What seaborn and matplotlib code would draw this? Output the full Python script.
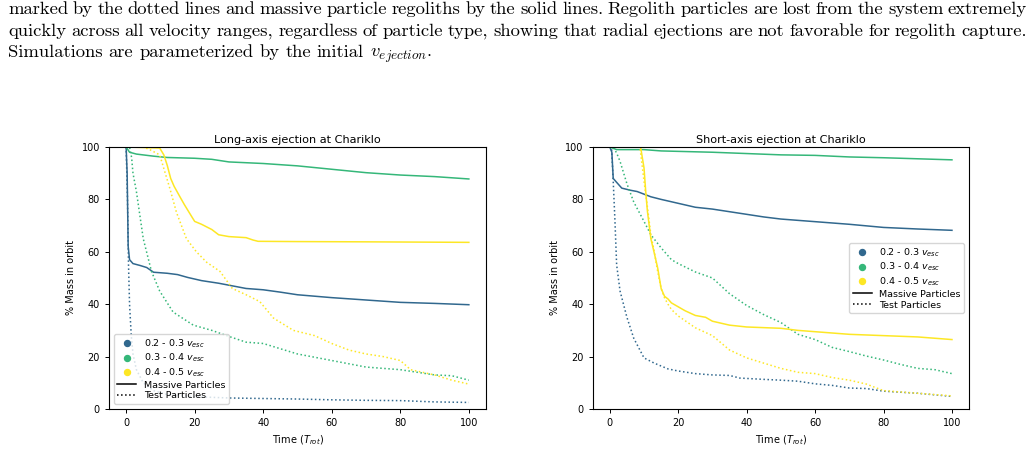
import numpy as np
import pandas as pd
import matplotlib
matplotlib.use("Agg")
import matplotlib.pyplot as plt
import seaborn as sns
from matplotlib.lines import Line2D

# colores por rango de velocidad
groups = ["0.2 - 0.3", "0.3 - 0.4", "0.4 - 0.5"]
colors = ["#31688e", "#35b779", "#fde725"]

# ---- Long-axis (izquierda) ----
long_t_mass_02 = [0, 0.3, 0.6, 1, 2, 4, 6, 8, 12, 15, 18, 22, 27, 31, 35, 40, 45, 50, 60, 70, 80, 90, 100]
long_m_mass_02 = [100, 90, 62, 57, 55.5, 54.8, 54, 52.2, 51.8, 51.3, 50.2, 49, 48, 47, 46, 45.5, 44.6, 43.6, 42.5, 41.6, 40.7, 40.3, 39.8]
long_t_test_02 = [0, 0.4, 0.7, 1, 1.5, 2, 3, 5, 8, 12, 20, 30, 40, 50, 60, 70, 80, 90, 100]
long_m_test_02 = [100, 80, 55, 40, 28, 21, 15, 10, 7, 5.5, 4.7, 4.2, 4.0, 3.8, 3.5, 3.3, 3.2, 2.7, 2.5]
long_t_mass_03 = [0, 1, 3, 8, 12, 20, 25, 30, 40, 50, 60, 70, 80, 90, 100]
long_m_mass_03 = [100, 98, 97.3, 96.5, 96, 95.7, 95.3, 94.3, 93.7, 92.8, 91.5, 90.2, 89.3, 88.7, 87.8]
long_t_test_03 = [0, 1, 1.6, 2, 3, 5, 7.4, 9.8, 13.7, 19.6, 25, 30, 35, 40, 50, 60, 70, 80, 90, 95, 100]
long_m_test_03 = [100, 100, 96, 90, 83, 65, 52.5, 45, 37, 32, 30, 27.7, 25.5, 25, 21, 18.5, 16, 15, 13, 12.7, 11]
long_t_mass_04 = [0, 9.8, 11, 12, 13, 14, 15.7, 17, 19.1, 20, 22, 25, 27, 30, 35, 37, 38.5, 50, 70, 100]
long_m_mass_04 = [100, 99.6, 97, 93, 88, 85, 81, 78, 73.5, 71.6, 70.5, 68.5, 66.5, 65.8, 65.4, 64.5, 64, 63.9, 63.8, 63.6]
long_t_test_04 = [0, 5, 6.9, 9.8, 12.8, 14.7, 17.6, 20.5, 23.5, 27.4, 31, 35, 39, 43, 48.8, 55, 60, 65, 70, 75, 80, 83, 90, 95, 100]
long_m_test_04 = [100, 100, 99, 97, 84, 75, 65, 60, 56, 52.5, 46, 43.6, 41, 34.7, 30, 28, 25, 22.5, 21, 20, 18.5, 15, 13, 11, 9.5]

# ---- Short-axis (derecha) ----
short_t_mass_02 = [0, 0.6, 1, 2, 3.5, 6, 8, 10, 12, 15, 20, 25, 30, 35, 40, 45, 50, 55, 60, 70, 80, 90, 100]
short_m_mass_02 = [100, 98, 88, 86.5, 84.3, 83.5, 83, 82, 81, 80, 78.5, 77, 76.3, 75.3, 74.3, 73.3, 72.5, 72, 71.5, 70.5, 69.3, 68.7, 68.2]
short_t_test_02 = [0, 0.5, 1, 1.5, 2, 3, 5, 7, 10, 13, 17, 20, 25, 30, 35, 38, 45, 50, 55, 60, 65, 70, 75, 80, 90, 100]
short_m_test_02 = [100, 100, 87, 72, 55, 45, 35, 27, 19.5, 17.5, 15.3, 14.5, 13.5, 13, 12.8, 11.8, 11.3, 11, 10.6, 9.6, 9, 8, 7.8, 6.8, 6, 4.8]
short_t_mass_03 = [0, 2, 10, 15, 30, 40, 50, 60, 70, 80, 90, 100]
short_m_mass_03 = [100, 99, 99, 98.5, 98, 97.5, 97, 96.8, 96.2, 95.9, 95.5, 95.1]
short_t_test_03 = [0, 1, 2, 3, 5, 7, 10, 12, 15, 18, 20, 25, 30, 32, 35, 40, 45, 50, 55, 60, 65, 70, 75, 80, 85, 90, 95, 100]
short_m_test_03 = [100, 100, 97.7, 94.5, 86, 79, 71.6, 66.5, 61.5, 57, 55.5, 52.3, 50, 47.6, 44, 39.5, 36, 33, 28.5, 26.5, 23.5, 21.9, 20.2, 18.7, 17, 15.5, 15, 13.5]
short_t_mass_04 = [0, 9, 10, 10.5, 11, 12, 13, 14, 15, 16, 17, 18, 20, 22, 25, 28, 30, 35, 40, 50, 55, 60, 70, 80, 90, 100]
short_m_mass_04 = [100, 100, 92, 83, 75.4, 65, 59.5, 53.8, 46, 43, 42, 40.5, 39, 37.5, 35.7, 35, 33.5, 32, 31.3, 30.8, 30, 29.5, 28.5, 28, 27.5, 26.5]
short_t_test_04 = [0, 8.8, 10, 11, 12, 13, 14, 15, 16, 17, 18, 20, 25, 30, 35, 40, 45, 50, 55, 60, 65, 70, 75, 80, 90, 100]
short_m_test_04 = [100, 100, 87, 77, 66.5, 60, 52.5, 46, 42.4, 40, 38, 35.5, 31, 28, 22.5, 19.5, 17.5, 15.5, 14, 13.5, 12, 11, 9.5, 7, 6, 5]

caption = [
    "marked by the dotted lines and massive particle regoliths by the solid lines.  Regolith particles are lost from the system extremely",
    "quickly across all velocity ranges, regardless of particle type, showing that radial ejections are not favorable for regolith capture.",
    "Simulations are parameterized by the initial $v_{ejection}$.",
]


def build(series):
    rows = []
    for grp, kind, t, m in series:
        for ti, mi in zip(t, m):
            rows.append((ti, mi, grp, kind))
    return pd.DataFrame(rows, columns=["time", "mass", "group", "kind"])


df_long = build([
    (groups[0], "Massive", long_t_mass_02, long_m_mass_02),
    (groups[0], "Test", long_t_test_02, long_m_test_02),
    (groups[1], "Massive", long_t_mass_03, long_m_mass_03),
    (groups[1], "Test", long_t_test_03, long_m_test_03),
    (groups[2], "Massive", long_t_mass_04, long_m_mass_04),
    (groups[2], "Test", long_t_test_04, long_m_test_04),
])
df_short = build([
    (groups[0], "Massive", short_t_mass_02, short_m_mass_02),
    (groups[0], "Test", short_t_test_02, short_m_test_02),
    (groups[1], "Massive", short_t_mass_03, short_m_mass_03),
    (groups[1], "Test", short_t_test_03, short_m_test_03),
    (groups[2], "Massive", short_t_mass_04, short_m_mass_04),
    (groups[2], "Test", short_t_test_04, short_m_test_04),
])

fs = 7.0
fig = plt.figure(figsize=(10.34, 4.68), dpi=100)
ax1 = fig.add_axes([0.1054, 0.1261, 0.3646, 0.5598])
ax2 = fig.add_axes([0.5732, 0.1261, 0.3640, 0.5598])

palette = dict(zip(groups, colors))
for ax, df, title, loc in [(ax1, df_long, "Long-axis ejection at Chariklo", "lower left"),
                           (ax2, df_short, "Short-axis ejection at Chariklo", "center right")]:
    sns.lineplot(data=df, x="time", y="mass", hue="group", style="kind",
                 palette=palette, dashes={"Massive": "", "Test": (1, 1.65)},
                 estimator=None, sort=False, legend=False, linewidth=1.1, ax=ax)
    ax.set_xlim(-5, 105)
    ax.set_ylim(0, 100)
    ax.set_title(title, fontsize=8.1, pad=3)
    ax.set_xlabel("Time ($T_{rot}$)", fontsize=fs)
    ax.set_ylabel("% Mass in orbit", fontsize=fs)
    ax.tick_params(labelsize=fs, length=3, width=0.7)
    for s in ax.spines.values():
        s.set_linewidth(0.8)
    handles = [Line2D([], [], marker="o", ls="", color=c, markersize=4.3) for c in colors]
    handles += [Line2D([], [], color="black", lw=1.1),
                Line2D([], [], color="black", lw=1.1, ls=(0, (1, 1.65)))]
    labels = [g + " $v_{esc}$" for g in groups] + ["Massive Particles", "Test Particles"]
    ax.legend(handles, labels, loc=loc, fontsize=6.8, handlelength=2.0,
              labelspacing=0.2, borderpad=0.4, handletextpad=0.8)

# texto del pie de figura, justificado (la última línea con espacio normal)
r = fig.canvas.get_renderer()
x0, x1 = 8, 1027
baselines = [14, 36, 57]
for i, line in enumerate(caption):
    words = line.split()
    arts = [fig.text(0, 1 - baselines[i] / 468, w, fontsize=13.4, family="cmr10",
                     math_fontfamily="cm", va="baseline") for w in words]
    widths = [a.get_window_extent(r).width for a in arts]
    if i < len(caption) - 1:
        gap = (x1 - x0 - sum(widths)) / (len(words) - 1)
    else:
        gap = 6.0
    x = x0
    for a, w in zip(arts, widths):
        a.set_x(x / 1034)
        x += w + gap

fig.savefig("out.png", dpi=100)
